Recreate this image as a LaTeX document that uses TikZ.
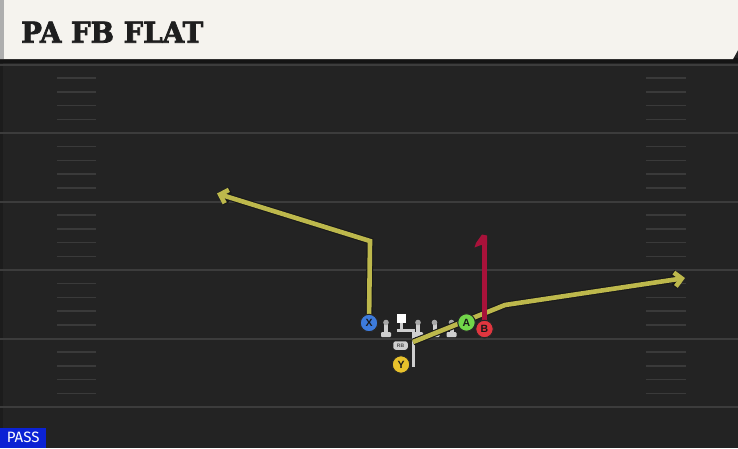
\documentclass[tikz,border=0pt]{standalone}
\usepackage{fontspec}
\setmainfont{Liberation Sans}
\newfontfamily\titlefont{DejaVu Serif}[BoldFeatures={FakeBold=2.5}]
\newfontfamily\passfont{Fira Sans}
\usetikzlibrary{arrows.meta}
\definecolor{fieldbg}{HTML}{232323}
\definecolor{yardcol}{HTML}{3C3C3C}
\definecolor{hashcol}{HTML}{3A3A3A}
\definecolor{headbg}{HTML}{F5F3EE}
\definecolor{headstrip}{HTML}{AEAEAE}
\definecolor{titlecol}{HTML}{1E1E1E}
\definecolor{xblue}{HTML}{3D7BDC}
\definecolor{agreen}{HTML}{72D64A}
\definecolor{bred}{HTML}{E0363F}
\definecolor{yyel}{HTML}{E8C22C}
\definecolor{routeyel}{HTML}{BDB84C}
\definecolor{routered}{HTML}{A8123A}
\definecolor{lmbody}{HTML}{CFCFCF}
\definecolor{lmhead}{HTML}{A8A8A8}
\definecolor{passblue}{HTML}{0B22D4}
\tikzset{
  yard/.style={draw=yardcol, line width=2pt},
  hashmk/.style={draw=hashcol, line width=1.5pt},
  player/.style={circle, draw=black!85, line width=1pt, minimum size=17.5pt, inner sep=0pt,
    font=\fontsize{10.5}{10.5}\selectfont\bfseries, text=black!90},
  routeout/.style={draw=black!90, line width=6.8pt, line join=miter},
  routein/.style={draw=routeyel, line width=4.6pt, line join=miter},
  tipout/.style={-{Straight Barb[length=7pt,width=14pt]}},
  tipin/.style={-{Straight Barb[length=7pt,width=14pt]}},
  grayln/.style={draw=lmbody, line width=3pt},
  lineman/.pic={
    \fill[lmbody] (-2,1) rectangle (2,11);
    \fill[lmbody, rounded corners=1pt] (-5,9.5) rectangle (5,14.5);
    \fill[lmhead] (0,0) circle (2.8pt);
  }
}
\begin{document}
\begin{tikzpicture}[x=1pt,y=-1pt]
\useasboundingbox (0,0) rectangle (738,448);
\fill[fieldbg] (0,0) rectangle (738,448);
\fill[black!20!fieldbg] (0,0) rectangle (3,448);
% yard lines
\foreach \yy in {64.5,133,201.5,270,338.5,407}
  \draw[yard] (0,\yy) -- (738,\yy);
% hash marks
\foreach \yy in {64.5,133,201.5,270,338.5}
  \foreach \i in {1,...,4} {
    \draw[hashmk] (57,{\yy+13.7*\i}) -- (96,{\yy+13.7*\i});
    \draw[hashmk] (646,{\yy+13.7*\i}) -- (686,{\yy+13.7*\i});
  }
% header
\fill[black!92] (0,58) rectangle (738,63);
\fill[headbg] (0,0) -- (738,0) -- (738,50) -- (733,59) -- (0,59) -- cycle;
\fill[headstrip] (0,0) rectangle (4,59);
\node[anchor=base west, inner sep=0pt, text=titlecol] (title) at (21,42.7)
  {\resizebox{182pt}{21pt}{\titlefont\bfseries PA FB FLAT}};
% backfield gray path
\draw[grayln] (401.5,322) -- (401.5,330.5);
\draw[grayln] (397,330.5) -- (414.5,330.5);
\draw[grayln] (413,329) -- (413,367);
% linemen
\pic at (386,322.5) {lineman};
\pic at (418,322.5) {lineman};
\pic at (434.5,322.5) {lineman};
\pic at (451.5,322.5) {lineman};
\node[fill=white, minimum size=9pt, inner sep=0pt] (C) at (401.8,318.3) {};
\node[fill=lmbody, rounded corners=2.5pt, minimum width=14.5pt, minimum height=8.5pt, inner sep=0pt,
  font=\fontsize{5}{5}\selectfont\bfseries, text=black!70] (RB) at (400.5,345.5) {RB};
% players
\node[player, fill=xblue] (X) at (369,323) {X};
\node[player, fill=agreen] (A) at (466.5,322.5) {A};
\node[player, fill=bred] (B) at (484.5,329) {B};
\node[player, fill=yyel] (Y) at (401,364.5) {Y};
% route coordinates
\coordinate (xc) at (370,241);
\coordinate (xe) at (217,193.5);
\coordinate (fs) at (413,342);
\coordinate (fb) at (505,305);
\coordinate (fe) at (685,278);
\coordinate (rt) at (484.5,236);
% X route
\draw[routeout, tipout] (X.center) -- (xc) -- (xe);
\draw[routein, tipin] (X.center) -- (xc) -- (xe);
% flat route
\draw[routeout, tipout] (fs) -- (fb) -- (fe);
\draw[routein, tipin] (fs) -- (fb) -- (fe);
% red route
\draw[draw=routered, line width=5pt] (B.center) -- (rt);
\fill[routered] (482,234.5) -- (487,235.5) -- (487,245) -- (481,245) -- (474.5,247.5) -- (476,243) -- cycle;
% redraw players on top
\node[player, fill=xblue] at (X) {X};
\node[player, fill=agreen] at (A) {A};
\node[player, fill=bred] at (B) {B};
% pass label
\node[fill=passblue, text=white, anchor=south west, minimum width=46pt, minimum height=20pt,
  inner sep=0pt, font=\passfont\fontsize{15}{15}\selectfont] (pass) at (0,448) {PASS};
\end{tikzpicture}
\end{document}
